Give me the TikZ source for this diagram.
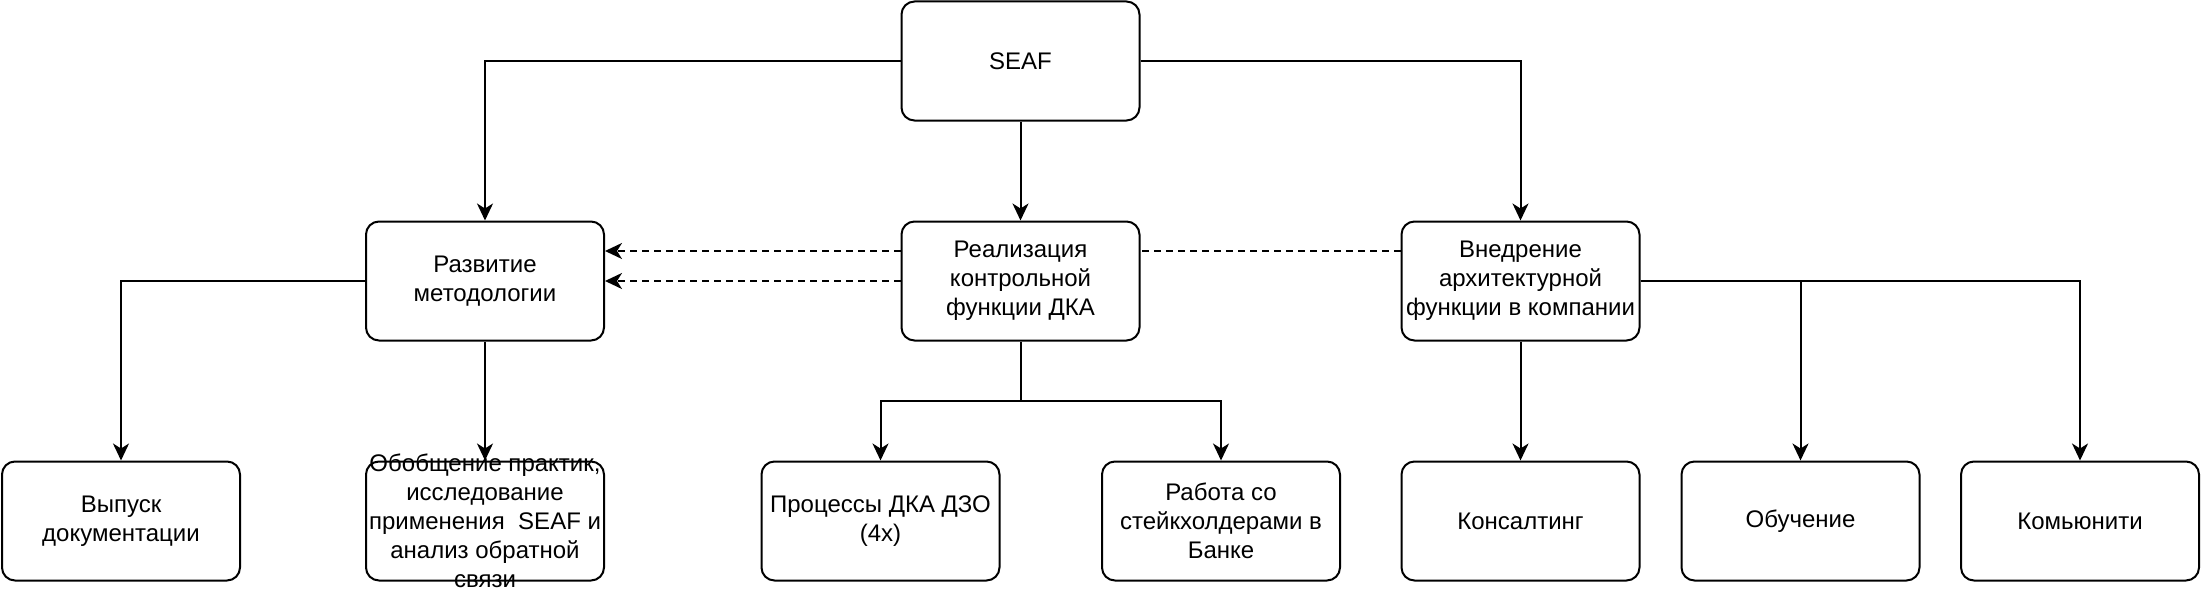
\documentclass[tikz,border=0pt]{standalone}
\usepackage{fontspec}
\setmainfont{Liberation Sans}
\usetikzlibrary{arrows.meta,backgrounds}
\begin{document}
\begin{tikzpicture}[x=1pt,y=-1pt,
  box/.style={draw=black, fill=white, line width=2pt, rounded corners=13pt,
    minimum width=238pt, minimum height=119pt, inner sep=0pt, align=center,
    font=\fontsize{24}{29}\selectfont},
  txt/.style={inner sep=0pt, align=center, font=\fontsize{24}{29}\selectfont},
  conn/.style={line width=2pt, -{Stealth[length=17pt,width=16pt,inset=5pt]}},
  dotconn/.style={line width=2pt, dash pattern=on 7pt off 5pt},
  ]
\useasboundingbox (0,0) rectangle (2202,594);
% top
\node[box] (seaf) at (1020.5,61) {SEAF};
% row 2
\node[box] (razv) at (485,281) {Развитие\\методологии};
\node[box] (real) at (1020.5,281) {Реализация\\контрольной\\функции ДКА};
\node[box] (vned) at (1520.5,281) {Внедрение\\архитектурной\\функции в компании};
% row 3
\node[box] (vyp) at (121,521) {Выпуск\\документации};
\node[box] (obob) at (485,521) {};
\node[txt] (obobtxt) at (obob.center) {Обобщение практик,\\исследование\\применения~ SEAF и\\анализ обратной\\связи};
\node[box] (proc) at (880.5,521) {Процессы ДКА ДЗО\\(4x)};
\node[box] (rab) at (1221,521) {Работа со\\стейкхолдерами в\\Банке};
\node[box] (kons) at (1520.5,521) {Консалтинг};
\node[box] (obuch) at (1800.5,521) {Обучение};
\node[box] (komm) at (2080,521) {Комьюнити};

\begin{scope}[on background layer]
% SEAF connectors
\draw[conn] (seaf.west) -| (razv.north);
\draw[conn] (seaf.south) -- (real.north);
\draw[conn] (seaf.east) -| (vned.north);
% dotted
\coordinate (vnedup) at ([yshift=30pt]vned.west);
\coordinate (razvup) at ([yshift=30pt]razv.east);
\draw[dotconn] (vnedup) -- (real.east |- vnedup);
\draw[dotconn,-{Stealth[length=17pt,width=16pt,inset=5pt]}] (real.west |- razvup) -- (razvup);
\draw[dotconn,-{Stealth[length=17pt,width=16pt,inset=5pt]}] (real.west) -- (razv.east);
% Razvitie children
\draw[conn] (razv.west) -| (vyp.north);
\draw[conn] (razv.south) -- (obob.north);
% Realizaciya children
\coordinate (rmid) at (1020.5,401);
\draw[line width=2pt] (real.south) -- (rmid);
\draw[conn] (rmid) -| (proc.north);
\draw[conn] (rmid) -| (rab.north);
% Vnedrenie children
\draw[conn] (vned.south) -- (kons.north);
\draw[conn] (vned.east) -| (obuch.north);
\draw[conn] (vned.east) -| (komm.north);
\end{scope}
\end{tikzpicture}
\end{document}
